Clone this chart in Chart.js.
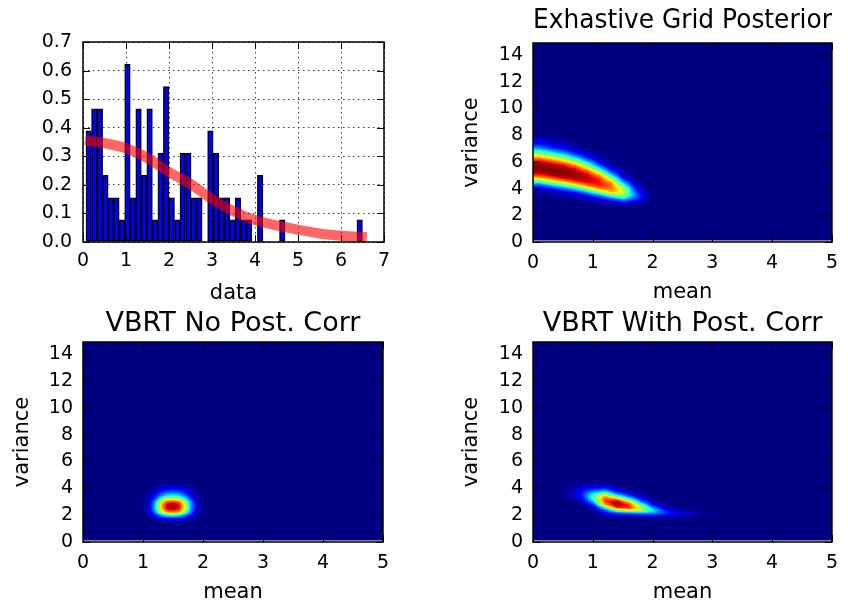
<!DOCTYPE html>
<html>
<head>
<meta charset="utf-8">
<script src="https://cdn.jsdelivr.net/npm/chart.js@4.4.0/dist/chart.umd.min.js"></script>
<style>
  html, body { margin: 0; padding: 0; background: #fff; }
  #wrap { position: relative; width: 848px; height: 608px; overflow: hidden; }
  canvas { position: absolute; }
</style>
</head>
<body>
<div id="wrap">
  <canvas id="hist" width="424" height="304" style="left:0;top:0"></canvas>
  <canvas id="exh" width="424" height="304" style="left:424px;top:0"></canvas>
  <canvas id="nocorr" width="424" height="304" style="left:0;top:304px"></canvas>
  <canvas id="withcorr" width="424" height="304" style="left:424px;top:304px"></canvas>
</div>
<script>
// histogramme (densité) + courbe ajustée
const histBinCenters = [0.134, 0.263, 0.392, 0.520, 0.649, 0.777, 0.906, 1.034, 1.163, 1.292,
  1.420, 1.549, 1.677, 1.806, 1.934, 2.063, 2.192, 2.320, 2.449, 2.577,
  2.706, 2.834, 2.963, 3.092, 3.220, 3.349, 3.477, 3.606, 3.734, 3.863,
  3.992, 4.120, 4.249, 4.377, 4.506, 4.634, 4.763, 4.892, 5.020, 5.149,
  5.277, 5.406, 5.534, 5.663, 5.792, 5.920, 6.049, 6.177, 6.306, 6.434];
const histDensity = [0.389, 0.466, 0.466, 0.233, 0.155, 0.155, 0.078, 0.622, 0.155, 0.466,
  0.233, 0.466, 0.078, 0.311, 0.544, 0.155, 0.078, 0.311, 0.311, 0.155,
  0.155, 0, 0.389, 0.311, 0.155, 0.155, 0.078, 0.155, 0.078, 0.078,
  0, 0.233, 0, 0, 0, 0.078, 0, 0, 0, 0,
  0, 0, 0, 0, 0, 0, 0, 0, 0, 0.078];
const fitX = [0.05, 0.5, 1.0, 1.5, 2.0, 2.5, 3.0, 3.5, 4.0, 4.5, 5.0, 5.5, 6.0, 6.6];
const fitY = [0.356, 0.346, 0.328, 0.294, 0.245, 0.203, 0.15, 0.108, 0.077, 0.058, 0.043, 0.03, 0.022, 0.017];
const histXTicks = [0, 1, 2, 3, 4, 5, 6, 7];
const histYTicks = [0, 0.1, 0.2, 0.3, 0.4, 0.5, 0.6, 0.7];

// axes des cartes de chaleur
const heatXTicks = [0, 1, 2, 3, 4, 5];
const heatYTicks = [0, 2, 4, 6, 8, 10, 12, 14];
const imageMean = [0, 5];
const imageVar = [0.12, 15];

// Exhastive Grid Posterior (valeurs normalisées, lignes = variance décroissante)
const exhMean = [0.1, 0.3, 0.5, 0.7, 0.9, 1.1, 1.3, 1.5, 1.7, 1.9];
const exhVar = [8.0, 7.75, 7.5, 7.25, 7.0, 6.75, 6.5, 6.25, 6.0, 5.75, 5.5, 5.25, 5.0, 4.75, 4.5, 4.25, 4.0, 3.75, 3.5, 3.25, 3.0, 2.75];
const exhGrid = [
  [0.02, 0.01, 0, 0, 0, 0, 0, 0, 0, 0],
  [0.05, 0.02, 0.01, 0, 0, 0, 0, 0, 0, 0],
  [0.1, 0.05, 0.03, 0.01, 0, 0, 0, 0, 0, 0],
  [0.17, 0.1, 0.06, 0.02, 0, 0, 0, 0, 0, 0],
  [0.28, 0.18, 0.12, 0.05, 0.01, 0, 0, 0, 0, 0],
  [0.43, 0.32, 0.23, 0.11, 0.04, 0, 0, 0, 0, 0],
  [0.6, 0.48, 0.38, 0.22, 0.09, 0.02, 0, 0, 0, 0],
  [0.78, 0.66, 0.55, 0.38, 0.17, 0.04, 0, 0, 0, 0],
  [0.94, 0.85, 0.73, 0.56, 0.32, 0.1, 0.01, 0, 0, 0],
  [0.99, 0.96, 0.91, 0.74, 0.5, 0.2, 0.04, 0, 0, 0],
  [1.0, 1.0, 0.98, 0.9, 0.68, 0.36, 0.1, 0.01, 0, 0],
  [0.98, 1.0, 1.0, 0.96, 0.86, 0.54, 0.2, 0.03, 0, 0],
  [0.87, 0.95, 0.99, 0.98, 0.94, 0.75, 0.36, 0.06, 0, 0],
  [0.65, 0.79, 0.91, 0.96, 0.95, 0.87, 0.55, 0.14, 0.01, 0],
  [0.42, 0.56, 0.68, 0.84, 0.93, 0.9, 0.73, 0.28, 0.03, 0],
  [0.2, 0.33, 0.46, 0.6, 0.8, 0.89, 0.8, 0.44, 0.08, 0],
  [0.08, 0.13, 0.24, 0.37, 0.55, 0.77, 0.8, 0.58, 0.15, 0],
  [0.03, 0.05, 0.09, 0.15, 0.32, 0.52, 0.72, 0.6, 0.22, 0.01],
  [0.01, 0.02, 0.03, 0.06, 0.12, 0.27, 0.47, 0.55, 0.25, 0.03],
  [0, 0, 0.01, 0.02, 0.05, 0.09, 0.22, 0.36, 0.2, 0.03],
  [0, 0, 0, 0, 0.02, 0.03, 0.06, 0.12, 0.08, 0.01],
  [0, 0, 0, 0, 0, 0.01, 0.02, 0.02, 0.01, 0]
];

// VBRT No Post. Corr
const noCorrMean = [1.0, 1.1, 1.2, 1.3, 1.4, 1.5, 1.6, 1.7, 1.8, 1.9, 2.0];
const noCorrVar = [4.5, 4.25, 4.0, 3.75, 3.5, 3.25, 3.0, 2.75, 2.5, 2.25, 2.0, 1.75, 1.5, 1.25];
const noCorrGrid = [
  [0, 0, 0, 0.01, 0.01, 0.01, 0.01, 0.01, 0, 0, 0],
  [0, 0, 0.01, 0.03, 0.04, 0.04, 0.04, 0.02, 0.01, 0, 0],
  [0, 0.01, 0.03, 0.07, 0.1, 0.1, 0.09, 0.06, 0.03, 0.01, 0],
  [0, 0.02, 0.07, 0.15, 0.21, 0.22, 0.2, 0.14, 0.06, 0.02, 0],
  [0, 0.03, 0.12, 0.25, 0.35, 0.36, 0.33, 0.22, 0.1, 0.03, 0],
  [0.01, 0.05, 0.19, 0.41, 0.56, 0.58, 0.53, 0.36, 0.16, 0.04, 0.01],
  [0.01, 0.07, 0.29, 0.62, 0.84, 0.88, 0.81, 0.55, 0.25, 0.06, 0.01],
  [0.01, 0.08, 0.33, 0.69, 0.95, 0.99, 0.91, 0.61, 0.28, 0.07, 0.01],
  [0.01, 0.08, 0.32, 0.68, 0.93, 0.97, 0.89, 0.6, 0.27, 0.07, 0.01],
  [0.01, 0.06, 0.26, 0.56, 0.77, 0.8, 0.74, 0.5, 0.22, 0.06, 0.01],
  [0, 0.03, 0.13, 0.28, 0.38, 0.4, 0.37, 0.25, 0.11, 0.03, 0],
  [0, 0.01, 0.04, 0.08, 0.12, 0.12, 0.11, 0.07, 0.03, 0.01, 0],
  [0, 0, 0.01, 0.01, 0.02, 0.02, 0.02, 0.01, 0.01, 0, 0],
  [0, 0, 0, 0, 0, 0, 0, 0, 0, 0, 0]
];

// VBRT With Post. Corr
const withCorrMean = [0.6, 0.8, 1.0, 1.2, 1.4, 1.6, 1.8, 2.0, 2.2, 2.4, 2.6, 2.8, 3.0, 3.2];
const withCorrVar = [4.6, 4.4, 4.2, 4.0, 3.8, 3.6, 3.4, 3.2, 3.0, 2.8, 2.6, 2.4, 2.2, 2.0, 1.8, 1.6, 1.4];
const withCorrGrid = [
  [0, 0.01, 0.01, 0, 0, 0, 0, 0, 0, 0, 0, 0, 0, 0],
  [0.01, 0.02, 0.03, 0.02, 0, 0, 0, 0, 0, 0, 0, 0, 0, 0],
  [0.01, 0.05, 0.07, 0.07, 0.02, 0, 0, 0, 0, 0, 0, 0, 0, 0],
  [0.02, 0.09, 0.14, 0.17, 0.05, 0.01, 0, 0, 0, 0, 0, 0, 0, 0],
  [0.02, 0.12, 0.26, 0.32, 0.13, 0.04, 0.01, 0, 0, 0, 0, 0, 0, 0],
  [0.03, 0.14, 0.38, 0.55, 0.27, 0.13, 0.02, 0, 0, 0, 0, 0, 0, 0],
  [0.02, 0.12, 0.43, 0.76, 0.48, 0.24, 0.07, 0.01, 0, 0, 0, 0, 0, 0],
  [0.01, 0.07, 0.41, 0.85, 0.8, 0.44, 0.14, 0.02, 0, 0, 0, 0, 0, 0],
  [0, 0.03, 0.3, 0.85, 0.97, 0.72, 0.28, 0.06, 0.01, 0, 0, 0, 0, 0],
  [0, 0.01, 0.14, 0.73, 1.0, 0.86, 0.48, 0.13, 0.02, 0, 0, 0, 0, 0],
  [0, 0, 0.05, 0.42, 0.87, 0.88, 0.59, 0.27, 0.06, 0.02, 0.01, 0, 0, 0],
  [0, 0, 0.02, 0.22, 0.5, 0.65, 0.58, 0.36, 0.16, 0.05, 0.02, 0.01, 0, 0],
  [0, 0, 0.01, 0.1, 0.24, 0.28, 0.32, 0.3, 0.19, 0.11, 0.06, 0.02, 0.01, 0],
  [0, 0, 0, 0.03, 0.08, 0.07, 0.09, 0.1, 0.09, 0.07, 0.05, 0.03, 0.01, 0],
  [0, 0, 0, 0.01, 0.02, 0.01, 0.01, 0.01, 0.01, 0.01, 0.01, 0.01, 0, 0],
  [0, 0, 0, 0, 0, 0, 0, 0, 0, 0, 0, 0, 0, 0],
  [0, 0, 0, 0, 0, 0, 0, 0, 0, 0, 0, 0, 0, 0]
];

Chart.defaults.font.family = 'DejaVu Sans';
Chart.defaults.color = '#000';

// palette "jet" de matplotlib
const jetR = [[0, 0], [0.35, 0], [0.66, 1], [0.89, 1], [1, 0.5]];
const jetG = [[0, 0], [0.125, 0], [0.375, 1], [0.64, 1], [0.91, 0], [1, 0]];
const jetB = [[0, 0.5], [0.11, 1], [0.34, 1], [0.65, 0], [1, 0]];
function seg(pts, v) {
  for (let i = 1; i < pts.length; i++) {
    if (v <= pts[i][0]) {
      const [x0, y0] = pts[i - 1], [x1, y1] = pts[i];
      return y0 + (y1 - y0) * (v - x0) / (x1 - x0);
    }
  }
  return pts[pts.length - 1][1];
}
const jetLut = [];
for (let i = 0; i < 256; i++) {
  const v = i / 255;
  jetLut.push([seg(jetR, v) * 255, seg(jetG, v) * 255, seg(jetB, v) * 255]);
}

// cadre + graduations vers l'intérieur sur les 4 côtés
const framePlugin = {
  id: 'frame',
  afterDraw(chart) {
    const { ctx, chartArea: a, scales: { x, y } } = chart;
    ctx.save();
    ctx.strokeStyle = '#000';
    ctx.lineWidth = 1;
    ctx.beginPath();
    x.ticks.forEach(t => {
      const px = Math.round(x.getPixelForValue(t.value)) + 0.5;
      ctx.moveTo(px, a.bottom); ctx.lineTo(px, a.bottom - 7);
      ctx.moveTo(px, a.top); ctx.lineTo(px, a.top + 7);
    });
    y.ticks.forEach(t => {
      const py = Math.round(y.getPixelForValue(t.value)) + 0.5;
      ctx.moveTo(a.left, py); ctx.lineTo(a.left + 7, py);
      ctx.moveTo(a.right, py); ctx.lineTo(a.right - 7, py);
    });
    ctx.stroke();
    ctx.lineWidth = 1.5;
    ctx.strokeRect(a.left, a.top, a.right - a.left, a.bottom - a.top);
    ctx.restore();
  }
};

// image de densité : grille -> lissage bilinéaire du navigateur -> palette jet
function heatPlugin(meanNodes, varNodes, grid) {
  return {
    id: 'heat',
    beforeDatasetsDraw(chart) {
      const { ctx, chartArea: a, scales: { x, y } } = chart;
      ctx.save();
      ctx.beginPath();
      ctx.rect(a.left, a.top, a.right - a.left, a.bottom - a.top);
      ctx.clip();
      ctx.fillStyle = '#d0d0d0';
      ctx.fillRect(a.left, a.top, a.right - a.left, a.bottom - a.top);
      const c0 = jetLut[0];
      ctx.fillStyle = `rgb(${c0[0]},${c0[1]},${c0[2]})`;
      const ix0 = x.getPixelForValue(imageMean[0]), ix1 = x.getPixelForValue(imageMean[1]);
      const iy0 = y.getPixelForValue(imageVar[1]), iy1 = y.getPixelForValue(imageVar[0]);
      ctx.fillRect(ix0, iy0, ix1 - ix0, iy1 - iy0);

      const cols = meanNodes.length, rows = varNodes.length;
      const dx = meanNodes[1] - meanNodes[0];
      const dy = Math.abs(varNodes[0] - varNodes[1]);
      const left = Math.round(x.getPixelForValue(meanNodes[0] - dx / 2));
      const right = Math.round(x.getPixelForValue(meanNodes[cols - 1] + dx / 2));
      const top = Math.round(y.getPixelForValue(varNodes[0] + dy / 2));
      const bottom = Math.round(y.getPixelForValue(varNodes[rows - 1] - dy / 2));
      const w = right - left, h = bottom - top;

      const small = document.createElement('canvas');
      small.width = cols; small.height = rows;
      const sctx = small.getContext('2d');
      const sd = sctx.createImageData(cols, rows);
      for (let r = 0; r < rows; r++) {
        for (let c = 0; c < cols; c++) {
          const g = Math.round(grid[r][c] * 255);
          const k = (r * cols + c) * 4;
          sd.data[k] = g; sd.data[k + 1] = g; sd.data[k + 2] = g; sd.data[k + 3] = 255;
        }
      }
      sctx.putImageData(sd, 0, 0);

      const big = document.createElement('canvas');
      big.width = w; big.height = h;
      const bctx = big.getContext('2d');
      bctx.imageSmoothingEnabled = true;
      bctx.drawImage(small, 0, 0, w, h);
      const bd = bctx.getImageData(0, 0, w, h);
      for (let k = 0; k < bd.data.length; k += 4) {
        const col = jetLut[bd.data[k]];
        bd.data[k] = col[0]; bd.data[k + 1] = col[1]; bd.data[k + 2] = col[2]; bd.data[k + 3] = 255;
      }
      bctx.putImageData(bd, 0, 0);
      ctx.drawImage(big, left, top);
      ctx.restore();
    }
  };
}

const tickFont = { size: 19 };
const labelFont = { size: 21, lineHeight: 1 };

new Chart(document.getElementById('hist'), {
  type: 'bar',
  data: {
    datasets: [
      {
        type: 'line',
        data: fitX.map((v, i) => ({ x: v, y: fitY[i] })),
        borderColor: 'rgba(255,0,0,0.6)',
        borderWidth: 10,
        borderCapStyle: 'butt',
        pointRadius: 0,
        cubicInterpolationMode: 'monotone',
        order: 0
      },
      {
        type: 'bar',
        data: histBinCenters.map((v, i) => ({ x: v, y: histDensity[i] })),
        backgroundColor: '#0000ff',
        borderColor: '#000',
        borderWidth: 1.5,
        borderSkipped: false,
        barPercentage: 1,
        categoryPercentage: 1,
        order: 1
      }
    ]
  },
  options: {
    responsive: false,
    animation: false,
    layout: { padding: { left: 0, right: 40, top: 42, bottom: 0 } },
    plugins: { legend: { display: false }, tooltip: { enabled: false } },
    scales: {
      x: {
        type: 'linear', min: 0, max: 7, offset: false,
        afterBuildTicks: s => { s.ticks = histXTicks.map(v => ({ value: v })); },
        afterFit: s => { s.height = 62; },
        grid: { offset: false, color: 'rgba(0,0,0,0.75)', lineWidth: 1, drawTicks: false },
        border: { display: false, dash: [1.5, 3.5] },
        ticks: { font: tickFont, padding: 8, maxRotation: 0, autoSkip: false },
        title: { display: true, text: 'data', font: labelFont, padding: { top: 0, bottom: 0 } }
      },
      y: {
        type: 'linear', min: 0, max: 0.7,
        afterBuildTicks: s => { s.ticks = histYTicks.map(v => ({ value: v })); },
        afterFit: s => { s.width = 83; },
        grid: { color: 'rgba(0,0,0,0.75)', lineWidth: 1, drawTicks: false },
        border: { display: false, dash: [1.5, 3.5] },
        ticks: { font: tickFont, padding: 11, callback: v => v.toFixed(1) }
      }
    }
  },
  plugins: [framePlugin]
});

function heatChart(id, title, meanNodes, varNodes, grid, box) {
  new Chart(document.getElementById(id), {
    type: 'scatter',
    data: { datasets: [{ data: [] }] },
    options: {
      responsive: false,
      animation: false,
      layout: { padding: { left: 0, right: box.right, top: 0, bottom: 0 } },
      plugins: {
        legend: { display: false },
        tooltip: { enabled: false },
        title: {
          display: true, text: title, fullSize: false, color: '#000',
          font: { size: 27, weight: 'normal', lineHeight: 1 },
          padding: { top: box.titleTop, bottom: box.titleBottom }
        }
      },
      scales: {
        x: {
          type: 'linear', min: 0, max: 5,
          afterBuildTicks: s => { s.ticks = heatXTicks.map(v => ({ value: v })); },
          afterFit: s => { s.height = box.xHeight; },
          grid: { display: false, drawTicks: false },
          border: { display: false },
          ticks: { font: tickFont, padding: 10, maxRotation: 0, autoSkip: false },
          title: { display: true, text: 'mean', font: labelFont, padding: { top: 0, bottom: box.meanPad } }
        },
        y: {
          type: 'linear', min: 0, max: 14.9,
          afterBuildTicks: s => { s.ticks = heatYTicks.map(v => ({ value: v })); },
          afterFit: s => { s.width = box.yWidth; },
          grid: { display: false, drawTicks: false },
          border: { display: false },
          ticks: { font: tickFont, padding: 10 },
          title: { display: true, text: 'variance', font: labelFont, padding: { top: box.varPad, bottom: 0 } }
        }
      }
    },
    plugins: [heatPlugin(meanNodes, varNodes, grid), framePlugin]
  });
}

heatChart('exh', 'Exhastive Grid Posterior', exhMean, exhVar, exhGrid,
  { right: 14, titleTop: 7, titleBottom: 9, xHeight: 62, yWidth: 109, meanPad: 1, varPad: 37 });
heatChart('nocorr', 'VBRT No Post. Corr', noCorrMean, noCorrVar, noCorrGrid,
  { right: 41, titleTop: 6, titleBottom: 5, xHeight: 66, yWidth: 83, meanPad: 5, varPad: 12 });
heatChart('withcorr', 'VBRT With Post. Corr', withCorrMean, withCorrVar, withCorrGrid,
  { right: 14, titleTop: 6, titleBottom: 5, xHeight: 66, yWidth: 109, meanPad: 5, varPad: 37 });
</script>
</body>
</html>
